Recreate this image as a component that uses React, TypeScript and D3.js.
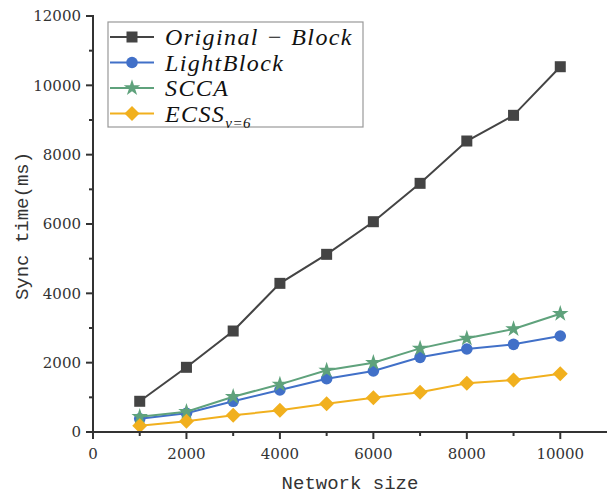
import React from "react";
import * as d3 from "d3";

// network sizes (x) and sync times in ms for each scheme
const networkSizes = [1000, 2000, 3000, 4000, 5000, 6000, 7000, 8000, 9000, 10000];
const originalBlock = [886, 1866, 2913, 4288, 5125, 6066, 7173, 8394, 9135, 10537];
const lightBlock = [384, 539, 885, 1211, 1538, 1760, 2154, 2394, 2529, 2769];
const scca = [442, 586, 1019, 1375, 1779, 2000, 2413, 2702, 2971, 3413];
const ecss = [183, 308, 481, 625, 817, 990, 1144, 1404, 1500, 1683];

const xTicks = [0, 2000, 4000, 6000, 8000, 10000];
const yTicks = [0, 2000, 4000, 6000, 8000, 10000, 12000];

const series = [
  { key: "orig", name: "Original − Block", values: originalBlock, color: "#444444", marker: "square" },
  { key: "light", name: "LightBlock", values: lightBlock, color: "#4170C8", marker: "circle" },
  { key: "scca", name: "SCCA", values: scca, color: "#5FA27C", marker: "star" },
  { key: "ecss", name: "ECSS", sub: "v=6", values: ecss, color: "#F1B01E", marker: "diamond" },
];

const W = 607;
const H = 496;
const margin = { left: 93, top: 16, right: 0, bottom: 64 };

function Marker({ type, x, y, color }: { type: string; x: number; y: number; color: string }) {
  if (type === "square") return <rect x={x - 5.5} y={y - 5.5} width={11} height={11} fill={color} />;
  if (type === "circle") return <circle cx={x} cy={y} r={5.8} fill={color} />;
  if (type === "diamond") {
    const r = 7.5;
    return <path d={`M${x},${y - r}L${x + r},${y}L${x},${y + r}L${x - r},${y}Z`} fill={color} />;
  }
  return <path d={d3.symbol(d3.symbolStar, 85)() || ""} transform={`translate(${x},${y})`} fill={color} />;
}

export default function App() {
  const x = d3.scaleLinear().domain([0, 11000]).range([margin.left, W]);
  const y = d3.scaleLinear().domain([0, 12000]).range([H - margin.bottom, margin.top]);
  const line = d3
    .line<number>()
    .x((_, i) => x(networkSizes[i]))
    .y((d) => y(d));

  const axisColor = "#333";
  const tickFont = "'DejaVu Serif', serif";
  const minorX = d3.range(1000, 11000, 2000);
  const minorY = d3.range(1000, 12000, 2000);
  const y0 = y(0);

  return (
    <svg width={W} height={H} style={{ position: "absolute", left: 0, top: 0, background: "#fff" }}>
      {/* data lines */}
      {series.map((s) => (
        <g key={s.key}>
          <path d={line(s.values) || ""} fill="none" stroke={s.color} strokeWidth={2} />
          {s.values.map((v, i) => (
            <Marker key={i} type={s.marker} x={x(networkSizes[i])} y={y(v)} color={s.color} />
          ))}
        </g>
      ))}

      {/* axes */}
      <line x1={x(0)} x2={x(0)} y1={y(12000) - 1} y2={y0 + 1} stroke={axisColor} strokeWidth={2} />
      <line x1={x(0) - 1} x2={W} y1={y0} y2={y0} stroke={axisColor} strokeWidth={2} />
      {yTicks.map((t) => (
        <g key={"y" + t}>
          <line x1={x(0) - 7} x2={x(0)} y1={y(t)} y2={y(t)} stroke={axisColor} strokeWidth={2} />
          <text x={x(0) - 12} y={y(t)} dy="0.35em" textAnchor="end" fontFamily={tickFont} fontSize={15} fill="#333">
            {t}
          </text>
        </g>
      ))}
      {minorY.map((t) => (
        <line key={"my" + t} x1={x(0) - 4} x2={x(0)} y1={y(t)} y2={y(t)} stroke={axisColor} strokeWidth={2} />
      ))}
      {xTicks.map((t) => (
        <g key={"x" + t}>
          <line x1={x(t)} x2={x(t)} y1={y0} y2={y0 + 7} stroke={axisColor} strokeWidth={2} />
          <text x={x(t)} y={y0 + 27} textAnchor="middle" fontFamily={tickFont} fontSize={15} fill="#333">
            {t}
          </text>
        </g>
      ))}
      {minorX.map((t) => (
        <line key={"mx" + t} x1={x(t)} x2={x(t)} y1={y0} y2={y0 + 4} stroke={axisColor} strokeWidth={2} />
      ))}

      {/* axis titles */}
      <text x={350} y={489} textAnchor="middle" fontFamily="'Liberation Mono', monospace" fontSize={19} fill="#333">
        Network size
      </text>
      <text
        transform="translate(28,226) rotate(-90)"
        textAnchor="middle"
        fontFamily="'Liberation Mono', monospace"
        fontSize={19}
        fill="#333"
      >
        Sync time(ms)
      </text>

      {/* legend */}
      <rect x={108} y={22} width={255} height={105} fill="#fff" stroke="#999" strokeWidth={1.2} />
      {series.map((s, i) => {
        const ly = 37 + i * 25.5;
        return (
          <g key={"lg" + s.key}>
            <line x1={110} x2={154} y1={ly} y2={ly} stroke={s.color} strokeWidth={2} />
            <Marker type={s.marker} x={132} y={ly} color={s.color} />
            <text
              x={165}
              y={ly}
              dy="0.35em"
              fontFamily="'Liberation Serif', serif"
              fontStyle="italic"
              fontSize={24}
              letterSpacing={1.4}
              fill="#111"
            >
              {s.name}
              {s.sub ? (
                <tspan dy="6" fontSize={15} letterSpacing={0.5}>
                  {s.sub}
                </tspan>
              ) : null}
            </text>
          </g>
        );
      })}
    </svg>
  );
}
